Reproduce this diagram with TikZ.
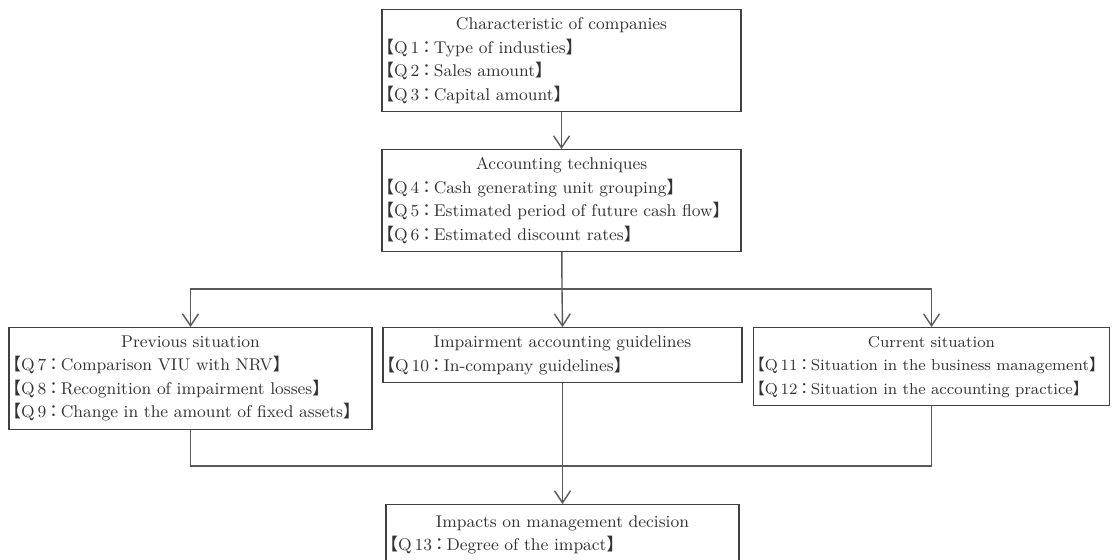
\documentclass[tikz,border=0pt]{standalone}
\usepackage{fontspec}
\newfontfamily\cjk{Noto Sans CJK JP}
\usetikzlibrary{arrows.meta}
\newcommand{\qline}[2]{\mbox{\makebox[0.6em][r]{\cjk 【}Q\,#1\makebox[0.85em]{\cjk ：}#2\makebox[0.55em][l]{\cjk 】}}}
\newcommand{\boxtitle}[1]{\makebox[\linewidth]{#1}}

\begin{document}
\begin{tikzpicture}[x=0.5pt, y=-0.5pt, >={Straight Barb[length=6pt,width=8pt]}]
	\tikzset{
		qbox/.style={draw=black!75, line width=0.6pt, anchor=north, align=left,
			inner xsep=1pt, inner ysep=0pt, text=black!80,
			font=\fontsize{8.5}{11.75}\selectfont},
		link/.style={draw=black!65, line width=0.7pt}
	}
	\useasboundingbox (0,0) rectangle (1112,559);

	\node[qbox, text width=177.5pt, minimum height=51pt] (chars) at (561.5, 9)
		{\boxtitle{Characteristic of companies}\\ \qline{1}{Type of industies}\\
		 \qline{2}{Sales amount}\\ \qline{3}{Capital amount}};
	\node[qbox, text width=177.5pt, minimum height=51pt] (tech) at (561.5, 149)
		{\boxtitle{Accounting techniques}\\ \qline{4}{Cash generating unit grouping}\\
		 \qline{5}{Estimated period of future cash flow}\\ \qline{6}{Estimated discount rates}};

	\node[qbox, text width=179.5pt, minimum height=51pt] (prev) at (190.5, 327)
		{\boxtitle{Previous situation}\\ \qline{7}{Comparison VIU with NRV}\\
		 \qline{8}{Recognition of impairment losses}\\ \qline{9}{Change in the amount of fixed assets}};
	\node[qbox, text width=177.5pt, minimum height=27.5pt] (guide) at (562.5, 327)
		{\boxtitle{Impairment accounting guidelines}\\ \qline{10}{In-company guidelines}};
	\node[qbox, text width=176pt, minimum height=39pt, font=\fontsize{7.9}{11.75}\selectfont]
		(curr) at (931.5, 327)
		{\boxtitle{Current situation}\\ \qline{11}{Situation in the business management}\\
		 \qline{12}{Situation in the accounting practice}};

	\node[qbox, text width=174.5pt, minimum height=30pt] (impact) at (562.5, 504)
		{\boxtitle{Impacts on management decision}\\ \qline{13}{Degree of the impact}};

	% split below the techniques box
	\coordinate (split) at (562, 289);
	\coordinate (merge) at (562, 466);

	\draw[link, ->] (chars) -- (tech);
	\draw[link] (tech) -- (split);
	\draw[link, ->] (split) -| (prev.north);
	\draw[link, ->] (split) -- (guide.north);
	\draw[link, ->] (split) -| (curr.north);

	\draw[link] (prev.south) |- (merge);
	\draw[link] (curr.south) |- (merge);
	\draw[link, ->] (guide) -- (impact);
\end{tikzpicture}
\end{document}
